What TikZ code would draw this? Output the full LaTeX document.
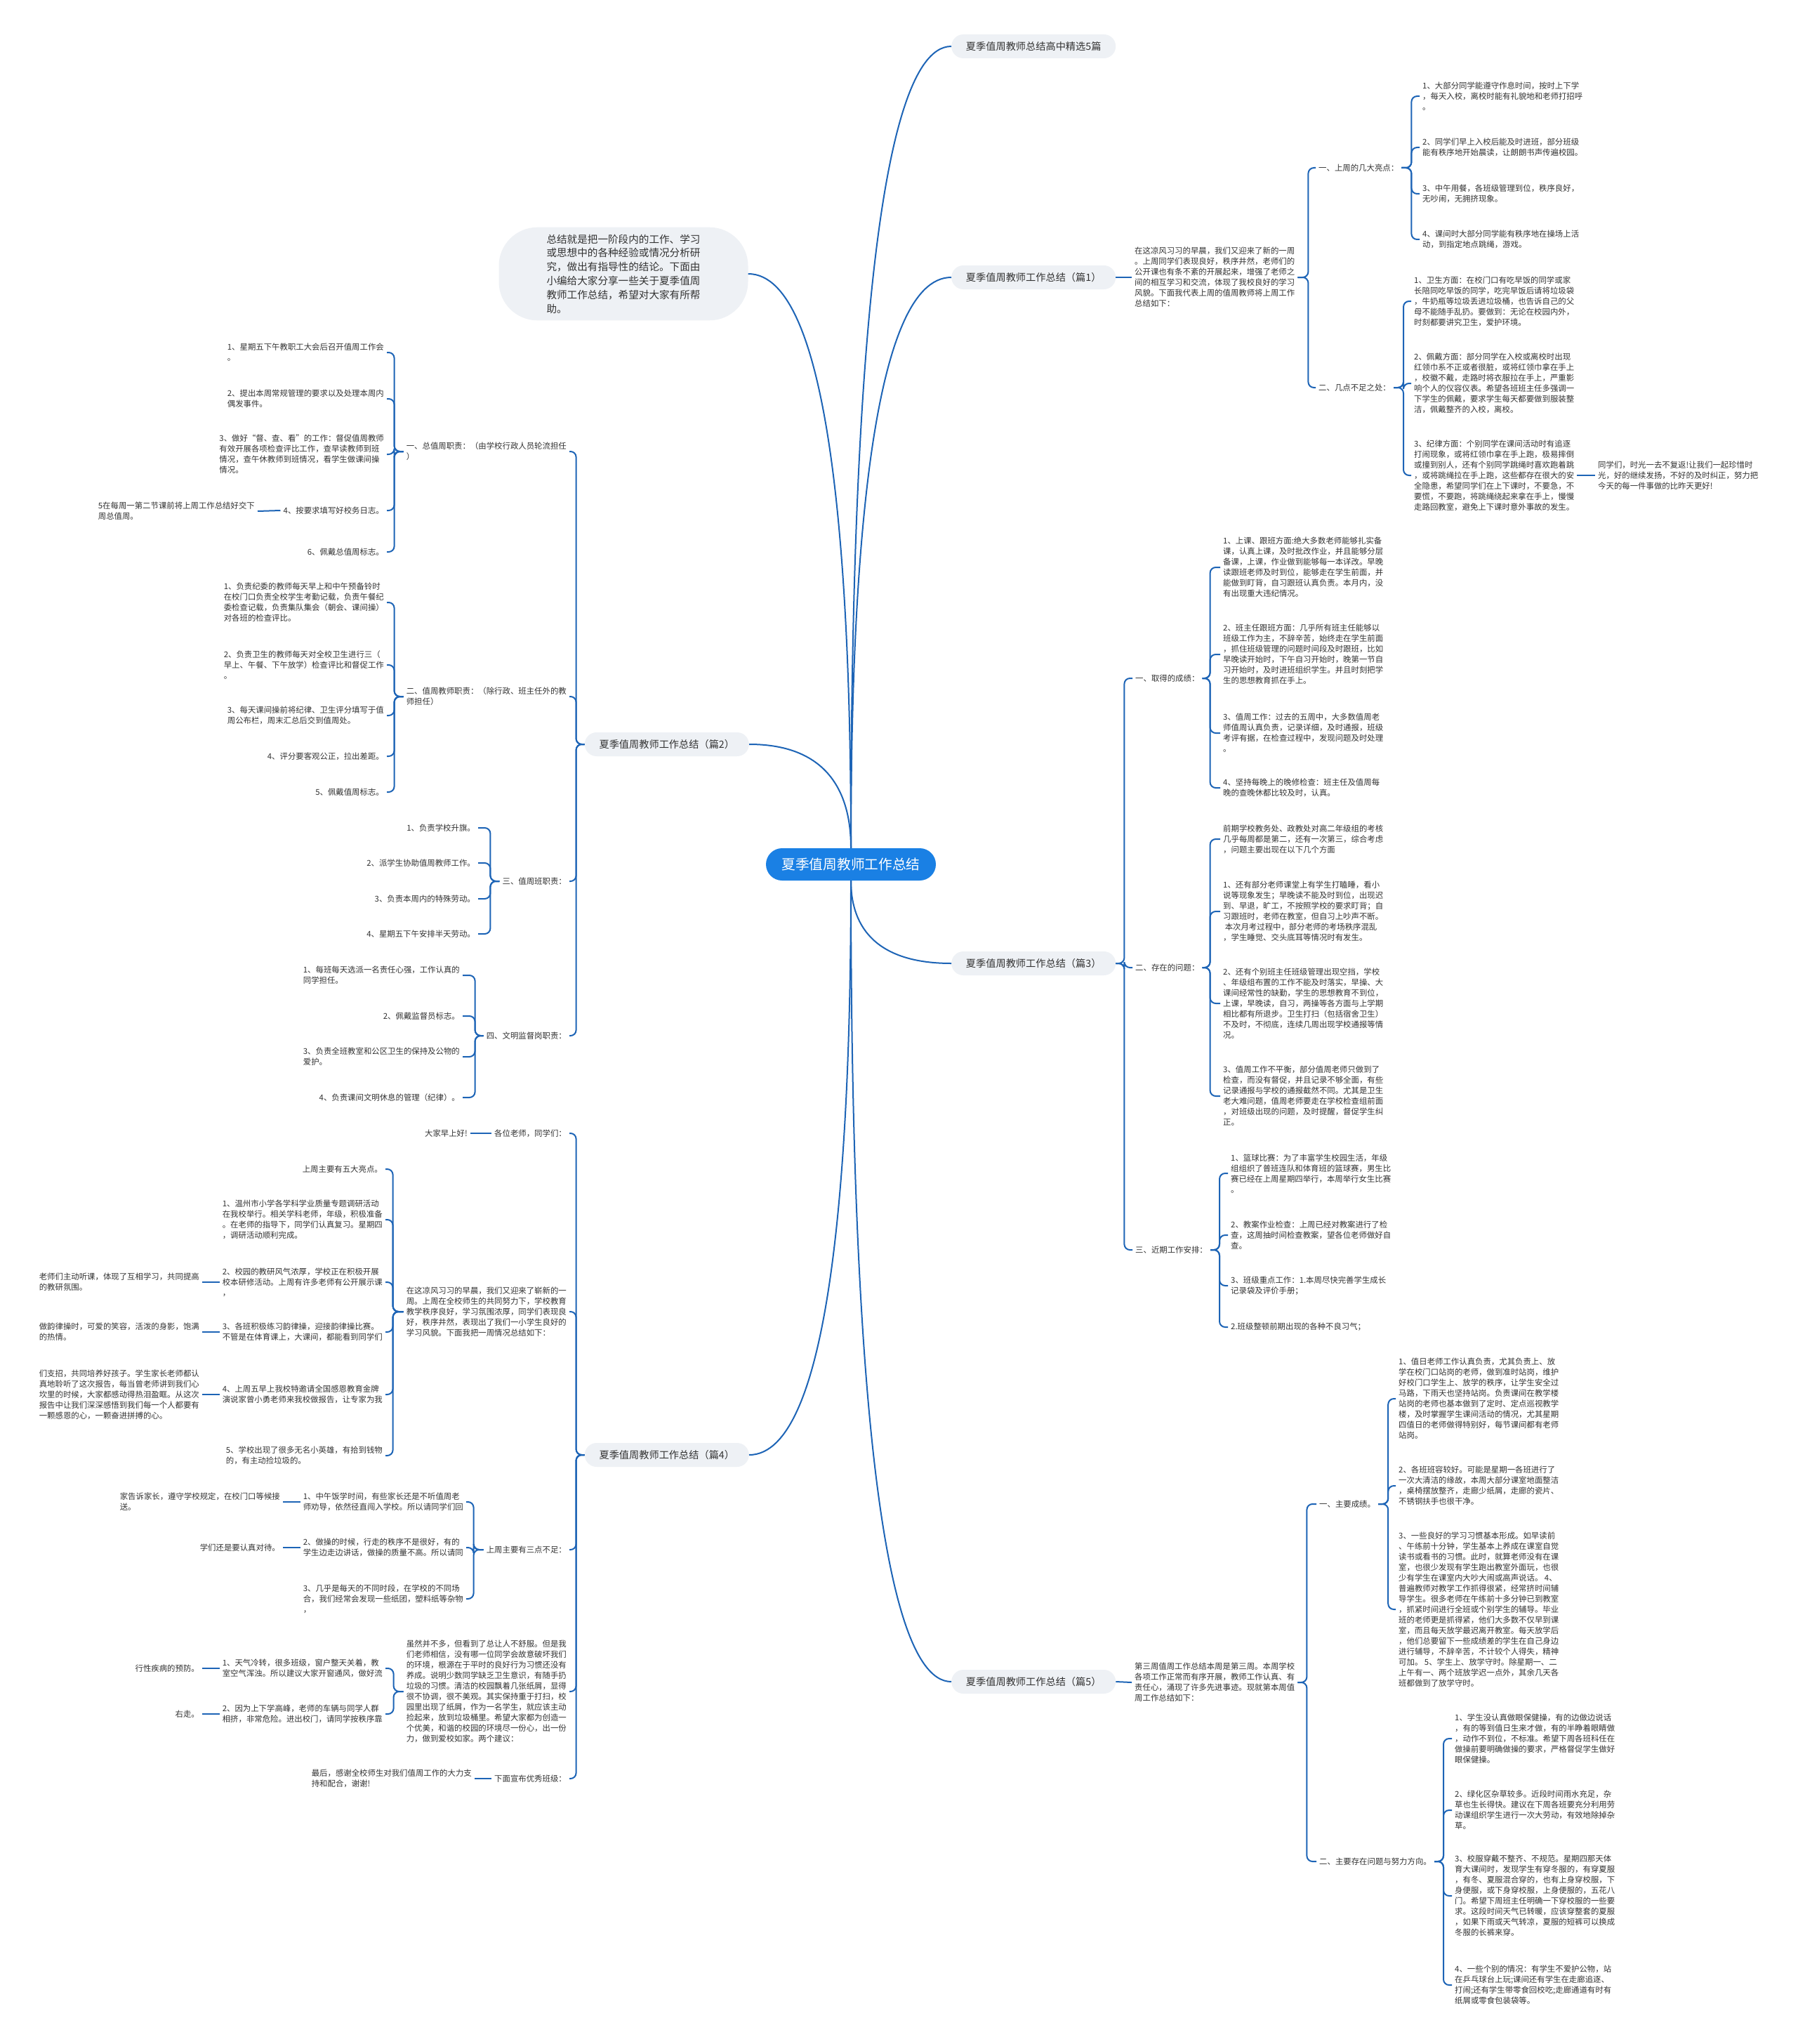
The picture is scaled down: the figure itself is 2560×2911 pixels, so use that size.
\documentclass[tikz,border=0pt]{standalone}
\usepackage{fontspec}
\setmainfont{Noto Sans CJK SC}
\usetikzlibrary{calc}
\definecolor{ink}{HTML}{333333}
\definecolor{wirec}{HTML}{1D64B6}
\definecolor{pillbg}{HTML}{EEF1F5}
\definecolor{rootc}{HTML}{1A80E4}
\newcommand{\BodyF}{\fontsize{11.4}{15}\selectfont}
\newcommand{\PillF}{\fontsize{14.2}{17}\selectfont}
\newcommand{\RootF}{\fontsize{19.7}{24}\selectfont}
\newcommand{\LeadF}{\fontsize{14.6}{19.8}\selectfont}
\tikzset{
  txt/.style={font=\BodyF, text=ink, align=left, inner xsep=4pt, inner ysep=2pt},
  rt/.style={txt, anchor=west},
  lt/.style={txt, anchor=east},
  pill/.style={fill=pillbg, text=ink, font=\PillF, rounded corners=17pt,
    minimum width=234pt, minimum height=34pt, inner xsep=0pt},
  wire/.style={draw=wirec, line width=2pt, rounded corners=8pt},
  branch/.style={draw=wirec, line width=2pt,
    to path={.. controls ($(\tikztostart)!0.5!(\tikztostart|-\tikztotarget)$)
      and ($(\tikztostart|-\tikztotarget)!0.2!(\tikztotarget)$) .. (\tikztotarget)}},
}

\begin{document}
\begin{tikzpicture}[x=1pt, y=-1pt]
  \path[use as bounding box, fill=white] (0,0) rectangle (2560,2911);

  % centre and first level
  \node[fill=rootc, text=white, font=\RootF, rounded corners=23pt,
        minimum width=242pt, minimum height=46pt] (root) at (1212,1231) {夏季值周教师工作总结};
  \node[pill, anchor=west] (p0) at (1355,66) {夏季值周教师总结高中精选5篇};
  \node[pill, anchor=west] (p1) at (1355,395) {夏季值周教师工作总结（篇1）};
  \node[pill, anchor=west] (p3) at (1355,1372) {夏季值周教师工作总结（篇3）};
  \node[pill, anchor=west] (p5) at (1355,2395) {夏季值周教师工作总结（篇5）};
  \node[pill, anchor=east] (p2) at (1067,1060) {夏季值周教师工作总结（篇2）};
  \node[pill, anchor=east] (p4) at (1067,2072) {夏季值周教师工作总结（篇4）};
  \node[fill=pillbg, text=ink, font=\LeadF, align=left, rounded corners=55pt,
        inner xsep=68pt, inner ysep=10pt] (lead) at (888,390)
    {总结就是把一阶段内的工作、学习\\或思想中的各种经验或情况分析研\\究，做出有指导性的结论。下面由\\小编给大家分享一些关于夏季值周\\教师工作总结，希望对大家有所帮\\助。};

  \draw[branch] (root.north) to (p0.west);
  \draw[branch] (root.north) to (p1.west);
  \draw[branch] (root.south) to (p3.west);
  \draw[branch] (root.south) to (p5.west);
  \draw[branch] (root.north) to (lead.east);
  \draw[branch] (root.north) to (p2.east);
  \draw[branch] (root.south) to (p4.east);

  % 篇1
  \node[rt] (s1) at (1612,395) {在这凉风习习的早晨，我们又迎来了新的一周\\。上周同学们表现良好，秩序井然，老师们的\\公开课也有条不紊的开展起来，增强了老师之\\间的相互学习和交流，体现了我校良好的学习\\风貌。下面我代表上周的值周教师将上周工作\\总结如下：};
  \node[rt] (s1a) at (1874,239) {一、上周的几大亮点：};
  \node[rt] (s1b) at (1874,552) {二、几点不足之处：};
  \node[rt] (s1a1) at (2022,137) {1、大部分同学能遵守作息时间，按时上下学\\，每天入校，离校时能有礼貌地和老师打招呼\\。};
  \node[rt] (s1a2) at (2022,210) {2、同学们早上入校后能及时进班，部分班级\\能有秩序地开始晨读，让朗朗书声传遍校园。};
  \node[rt] (s1a3) at (2022,276) {3、中午用餐，各班级管理到位，秩序良好，\\无吵闹，无拥挤现象。};
  \node[rt] (s1a4) at (2022,341) {4、课间时大部分同学能有秩序地在操场上活\\动，到指定地点跳绳，游戏。};
  \node[rt] (s1b1) at (2010,429) {1、卫生方面：在校门口有吃早饭的同学或家\\长陪同吃早饭的同学，吃完早饭后请将垃圾袋\\，牛奶瓶等垃圾丢进垃圾桶，也告诉自己的父\\母不能随手乱扔。要做到：无论在校园内外，\\时刻都要讲究卫生，爱护环境。};
  \node[rt] (s1b2) at (2010,546) {2、佩戴方面：部分同学在入校或离校时出现\\红领巾系不正或者很脏，或将红领巾拿在手上\\，校徽不戴，走路时将衣服拉在手上，严重影\\响个人的仪容仪表。希望各班班主任多强调一\\下学生的佩戴，要求学生每天都要做到服装整\\洁，佩戴整齐的入校，离校。};
  \node[rt] (s1b3) at (2010,677) {3、纪律方面：个别同学在课间活动时有追逐\\打闹现象，或将红领巾拿在手上跑，极易摔倒\\或撞到别人，还有个别同学跳绳时喜欢跑着跳\\，或将跳绳拉在手上跑，这些都存在很大的安\\全隐患，希望同学们在上下课时，不要急，不\\要慌，不要跑，将跳绳绕起来拿在手上，慢慢\\走路回教室，避免上下课时意外事故的发生。};
  \node[rt] (s1b3x) at (2272,677) {同学们，时光一去不复返!让我们一起珍惜时\\光，好的继续发扬，不好的及时纠正，努力把\\今天的每一件事做的比昨天更好!};

  \draw[wire] (p1.east) -- (s1.west);
  \foreach \kid in {s1a,s1b} \draw[wire] (s1.east) -- ++(15,0) |- (\kid.west);
  \foreach \kid in {s1a1,s1a2,s1a3,s1a4} \draw[wire] (s1a.east) -- ++(14,0) |- (\kid.west);
  \foreach \kid in {s1b1,s1b2,s1b3} \draw[wire] (s1b.east) -- ++(14,0) |- (\kid.west);
  \draw[wire] (s1b3.east) -- (s1b3x.west);

  % 篇3
  \node[rt] (s3a) at (1613,966) {一、取得的成绩：};
  \node[rt] (s3b) at (1613,1378) {二、存在的问题：};
  \node[rt] (s3c) at (1613,1780) {三、近期工作安排：};
  \node[rt] (s3a1) at (1738,808) {1、上课、跟班方面:绝大多数老师能够扎实备\\课，认真上课，及时批改作业，并且能够分层\\备课，上课，作业做到能够每一本详改。早晚\\读跟班老师及时到位，能够走在学生前面，并\\能做到盯背，自习跟班认真负责。本月内，没\\有出现重大违纪情况。};
  \node[rt] (s3a2) at (1738,932) {2、班主任跟班方面：几乎所有班主任能够以\\班级工作为主，不辞辛苦，始终走在学生前面\\，抓住班级管理的问题时间段及时跟班，比如\\早晚读开始时，下午自习开始时，晚第一节自\\习开始时，及时进班组织学生。并且时刻把学\\生的思想教育抓在手上。};
  \node[rt] (s3a3) at (1738,1044) {3、值周工作：过去的五周中，大多数值周老\\师值周认真负责，记录详细，及时通报，班级\\考评有据，在检查过程中，发现问题及时处理\\。};
  \node[rt] (s3a4) at (1738,1122) {4、坚持每晚上的晚修检查：班主任及值周每\\晚的查晚休都比较及时，认真。};
  \node[rt] (s3b1) at (1738,1195) {前期学校教务处、政教处对高二年级组的考核\\几乎每周都是第二，还有一次第三，综合考虑\\，问题主要出现在以下几个方面};
  \node[rt] (s3b2) at (1738,1298) {1、还有部分老师课堂上有学生打瞌睡，看小\\说等现象发生；早晚读不能及时到位，出现迟\\到、早退，旷工，不按照学校的要求盯背；自\\习跟班时，老师在教室，但自习上吵声不断。\\~本次月考过程中，部分老师的考场秩序混乱\\，学生睡觉、交头底耳等情况时有发生。};
  \node[rt] (s3b3) at (1738,1429) {2、还有个别班主任班级管理出现空挡，学校\\、年级组布置的工作不能及时落实，早操、大\\课间经常性的缺勤，学生的思想教育不到位，\\上课，早晚读，自习，两操等各方面与上学期\\相比都有所退步。卫生打扫（包括宿舍卫生）\\不及时，不彻底，连续几周出现学校通报等情\\况。};
  \node[rt] (s3b4) at (1738,1561) {3、值周工作不平衡，部分值周老师只做到了\\检查，而没有督促，并且记录不够全面，有些\\记录通报与学校的通报截然不同。尤其是卫生\\老大难问题，值周老师要走在学校检查组前面\\，对班级出现的问题，及时提醒，督促学生纠\\正。};
  \node[rt] (s3c1) at (1749,1671) {1、篮球比赛：为了丰富学生校园生活，年级\\组组织了普班连队和体育班的篮球赛，男生比\\赛已经在上周星期四举行，本周举行女生比赛\\。};
  \node[rt] (s3c2) at (1749,1759) {2、教案作业检查：上周已经对教案进行了检\\查，这周抽时间检查教案，望各位老师做好自\\查。};
  \node[rt] (s3c3) at (1749,1831) {3、班级重点工作：1.本周尽快完善学生成长\\记录袋及评价手册；};
  \node[rt] (s3c4) at (1749,1890) {2.班级整顿前期出现的各种不良习气；};

  \foreach \kid in {s3a,s3b,s3c} \draw[wire] (p3.east) -- ++(12,0) |- (\kid.west);
  \foreach \kid in {s3a1,s3a2,s3a3,s3a4} \draw[wire] (s3a.east) -- ++(11,0) |- (\kid.west);
  \foreach \kid in {s3b1,s3b2,s3b3,s3b4} \draw[wire] (s3b.east) -- ++(11,0) |- (\kid.west);
  \foreach \kid in {s3c1,s3c2,s3c3,s3c4} \draw[wire] (s3c.east) -- ++(13,0) |- (\kid.west);

  % 篇5
  \node[rt] (s5) at (1612,2396) {第三周值周工作总结本周是第三周。本周学校\\各项工作正常而有序开展，教师工作认真、有\\责任心，涌现了许多先进事迹。现就第本周值\\周工作总结如下：};
  \node[rt] (s5a) at (1875,2142) {一、主要成绩。};
  \node[rt] (s5b) at (1875,2651) {二、主要存在问题与努力方向。};
  \node[rt] (s5a1) at (1988,1992) {1、值日老师工作认真负责，尤其负责上、放\\学在校门口站岗的老师，做到准时站岗，维护\\好校门口学生上、放学的秩序，让学生安全过\\马路，下雨天也坚持站岗。负责课间在教学楼\\站岗的老师也基本做到了定时、定点巡视教学\\楼，及时掌握学生课间活动的情况，尤其星期\\四值日的老师做得特别好，每节课间都有老师\\站岗。};
  \node[rt] (s5a2) at (1988,2116) {2、各班班容较好。可能是星期一各班进行了\\一次大清洁的缘故，本周大部分课室地面整洁\\，桌椅摆放整齐，走廊少纸屑，走廊的瓷片、\\不锈钢扶手也很干净。};
  \node[rt] (s5a3) at (1988,2292) {3、一些良好的学习习惯基本形成。如早读前\\、午练前十分钟，学生基本上养成在课室自觉\\读书或看书的习惯。此时，就算老师没有在课\\室，也很少发现有学生跑出教室外面玩，也很\\少有学生在课室内大吵大闹或高声说话。 4、\\普遍教师对教学工作抓得很紧，经常挤时间辅\\导学生。很多老师在午练前十多分钟已到教室\\，抓紧时间进行全班或个别学生的辅导。毕业\\班的老师更是抓得紧，他们大多数不仅早到课\\室，而且每天放学最迟离开教室。每天放学后\\，他们总要留下一些成绩差的学生在自己身边\\进行辅导，不辞辛苦，不计较个人得失，精神\\可加。 5、学生上、放学守时。除星期一、二\\上午有一、两个班放学迟一点外，其余几天各\\班都做到了放学守时。};
  \node[rt] (s5b1) at (2068,2476) {1、学生没认真做眼保健操，有的边做边说话\\，有的等到值日生来才做，有的半睁着眼睛做\\，动作不到位，不标准。希望下周各班科任在\\做操前要明确做操的要求，严格督促学生做好\\眼保健操。};
  \node[rt] (s5b2) at (2068,2578) {2、绿化区杂草较多。近段时间雨水充足，杂\\草也生长得快。建议在下周各班要充分利用劳\\动课组织学生进行一次大劳动，有效地除掉杂\\草。};
  \node[rt] (s5b3) at (2068,2700) {3、校服穿戴不整齐、不规范。星期四那天体\\育大课间时，发现学生有穿冬服的，有穿夏服\\，有冬、夏服混合穿的，也有上身穿校服，下\\身便服，或下身穿校服，上身便服的，五花八\\门。希望下周班主任明确一下穿校服的一些要\\求。这段时间天气已转暖，应该穿整套的夏服\\，如果下雨或天气转凉，夏服的短裤可以换成\\冬服的长裤来穿。};
  \node[rt] (s5b4) at (2068,2827) {4、一些个别的情况：有学生不爱护公物，站\\在乒乓球台上玩;课间还有学生在走廊追逐、\\打闹;还有学生带零食回校吃;走廊通道有时有\\纸屑或零食包装袋等。};

  \draw[wire] (p5.east) -- (s5.west);
  \foreach \kid in {s5a,s5b} \draw[wire] (s5.east) -- ++(13,0) |- (\kid.west);
  \foreach \kid in {s5a1,s5a2,s5a3} \draw[wire] (s5a.east) -- ++(14,0) |- (\kid.west);
  \foreach \kid in {s5b1,s5b2,s5b3,s5b4} \draw[wire] (s5b.east) -- ++(13,0) |- (\kid.west);

  % 篇2
  \node[lt] (s2a) at (811,643) {一、总值周职责：（由学校行政人员轮流担任\\）};
  \node[lt] (s2b) at (811,992) {二、值周教师职责：（除行政、班主任外的教\\师担任）};
  \node[lt] (s2c) at (811,1255) {三、值周班职责：};
  \node[lt] (s2d) at (811,1475) {四、文明监督岗职责：};
  \node[lt] (s2a1) at (551,502) {1、星期五下午教职工大会后召开值周工作会\\。};
  \node[lt] (s2a2) at (551,568) {2、提出本周常规管理的要求以及处理本周内\\偶发事件。};
  \node[lt] (s2a3) at (551,647) {3、做好“督、查、看”的工作：督促值周教师\\有效开展各项检查评比工作，查早读教师到班\\情况，查午休教师到班情况，看学生做课间操\\情况。};
  \node[lt] (s2a4) at (551,727) {4、按要求填写好校务日志。};
  \node[lt] (s2a6) at (551,786) {6、佩戴总值周标志。};
  \node[lt] (s2a5) at (367,728) {5在每周一第二节课前将上周工作总结好交下\\周总值周。};
  \node[lt] (s2b1) at (551,858) {1、负责纪委的教师每天早上和中午预备铃时\\在校门口负责全校学生考勤记载，负责午餐纪\\委检查记载，负责集队集会（朝会、课间操）\\对各班的检查评比。};
  \node[lt] (s2b2) at (551,947) {2、负责卫生的教师每天对全校卫生进行三（\\早上、午餐、下午放学）检查评比和督促工作\\。};
  \node[lt] (s2b3) at (551,1019) {3、每天课间操前将纪律、卫生评分填写于值\\周公布栏，周末汇总后交到值周处。};
  \node[lt] (s2b4) at (551,1077) {4、评分要客观公正，拉出差距。};
  \node[lt] (s2b5) at (551,1128) {5、佩戴值周标志。};
  \node[lt] (s2c1) at (681,1179) {1、负责学校升旗。};
  \node[lt] (s2c2) at (681,1229) {2、派学生协助值周教师工作。};
  \node[lt] (s2c3) at (681,1280) {3、负责本周内的特殊劳动。};
  \node[lt] (s2c4) at (681,1330) {4、星期五下午安排半天劳动。};
  \node[lt] (s2d1) at (659,1389) {1、每班每天选派一名责任心强，工作认真的\\同学担任。};
  \node[lt] (s2d2) at (659,1447) {2、佩戴监督员标志。};
  \node[lt] (s2d3) at (659,1505) {3、负责全班教室和公区卫生的保持及公物的\\爱护。};
  \node[lt] (s2d4) at (659,1563) {4、负责课间文明休息的管理（纪律）。};

  \foreach \kid in {s2a,s2b,s2c,s2d} \draw[wire] (p2.west) -- ++(-12,0) |- (\kid.east);
  \foreach \kid in {s2a1,s2a2,s2a3,s2a4,s2a6} \draw[wire] (s2a.west) -- ++(-13,0) |- (\kid.east);
  \draw[wire] (s2a4.west) -- (s2a5.east);
  \foreach \kid in {s2b1,s2b2,s2b3,s2b4,s2b5} \draw[wire] (s2b.west) -- ++(-13,0) |- (\kid.east);
  \foreach \kid in {s2c1,s2c2,s2c3,s2c4} \draw[wire] (s2c.west) -- ++(-13,0) |- (\kid.east);
  \foreach \kid in {s2d1,s2d2,s2d3,s2d4} \draw[wire] (s2d.west) -- ++(-12,0) |- (\kid.east);

  % 篇4
  \node[lt] (s4a) at (811,1614) {各位老师，同学们：};
  \node[lt] (s4a1) at (670,1614) {大家早上好!};
  \node[lt] (s4b) at (811,1868) {在这凉风习习的早晨，我们又迎来了崭新的一\\周。上周在全校师生的共同努力下，学校教育\\教学秩序良好，学习氛围浓厚，同学们表现良\\好，秩序井然，表现出了我们一小学生良好的\\学习风貌。下面我把一周情况总结如下：};
  \node[lt] (s4c) at (811,2207) {上周主要有三点不足：};
  \node[lt] (s4d) at (811,2409) {虽然并不多，但看到了总让人不舒服。但是我\\们老师相信，没有哪一位同学会故意破坏我们\\的环境，根源在于平时的良好行为习惯还没有\\养成。说明少数同学缺乏卫生意识，有随手扔\\垃圾的习惯。清洁的校园飘着几张纸屑，显得\\很不协调，很不美观。其实保持重于打扫，校\\园里出现了纸屑，作为一名学生，就应该主动\\捡起来，放到垃圾桶里。希望大家都为创造一\\个优美，和谐的校园的环境尽一份心，出一份\\力，做到爱校如家。两个建议：};
  \node[lt] (s4e) at (811,2533) {下面宣布优秀班级：};
  \node[lt] (s4e1) at (676,2533) {最后，感谢全校师生对我们值周工作的大力支\\持和配合，谢谢!};
  \node[lt] (s4b1) at (549,1665) {上周主要有五大亮点。};
  \node[lt] (s4b2) at (549,1737) {1、温州市小学各学科学业质量专题调研活动\\在我校举行。相关学科老师，年级，积极准备\\。在老师的指导下，同学们认真复习。星期四\\，调研活动顺利完成。};
  \node[lt] (s4b3) at (549,1826) {2、校园的教研风气浓厚，学校正在积极开展\\校本研修活动。上周有许多老师有公开展示课\\，};
  \node[lt] (s4b4) at (549,1897) {3、各班积极练习韵律操，迎接韵律操比赛。\\不管是在体育课上，大课间，都能看到同学们};
  \node[lt] (s4b5) at (549,1986) {4、上周五早上我校特邀请全国感恩教育金牌\\演说家曾小勇老师来我校做报告，让专家为我};
  \node[lt] (s4b6) at (549,2073) {5、学校出现了很多无名小英雄，有拾到钱物\\的，有主动捡垃圾的。};
  \node[lt] (s4b3x) at (288,1826) {老师们主动听课，体现了互相学习，共同提高\\的教研氛围。};
  \node[lt] (s4b4x) at (288,1897) {做韵律操时，可爱的笑容，活泼的身影，饱满\\的热情。};
  \node[lt] (s4b5x) at (288,1986) {们支招，共同培养好孩子。学生家长老师都认\\真地聆听了这次报告，每当曾老师讲到我们心\\坎里的时候，大家都感动得热泪盈眶。从这次\\报告中让我们深深感悟到我们每一个人都要有\\一颗感恩的心，一颗奋进拼搏的心。};
  \node[lt] (s4c1) at (664,2139) {1、中午饭学时间，有些家长还是不听值周老\\师劝导，依然径直闯入学校。所以请同学们回};
  \node[lt] (s4c2) at (664,2204) {2、做操的时候，行走的秩序不是很好，有的\\学生边走边讲话，做操的质量不高。所以请同};
  \node[lt] (s4c3) at (664,2277) {3、几乎是每天的不同时段，在学校的不同场\\合，我们经常会发现一些纸团，塑料纸等杂物\\，};
  \node[lt] (s4c1x) at (403,2139) {家告诉家长，遵守学校规定，在校门口等候接\\送。};
  \node[lt] (s4c2x) at (403,2204) {学们还是要认真对待。};
  \node[lt] (s4d1) at (549,2376) {1、天气冷转，很多班级，窗户整天关着，教\\室空气浑浊。所以建议大家开窗通风，做好流};
  \node[lt] (s4d2) at (549,2441) {2、因为上下学高峰，老师的车辆与同学人群\\相挤，非常危险。进出校门，请同学按秩序靠};
  \node[lt] (s4d1x) at (288,2376) {行性疾病的预防。};
  \node[lt] (s4d2x) at (288,2441) {右走。};

  \foreach \kid in {s4a,s4b,s4c,s4d,s4e} \draw[wire] (p4.west) -- ++(-12,0) |- (\kid.east);
  \draw[wire] (s4a.west) -- (s4a1.east);
  \draw[wire] (s4e.west) -- (s4e1.east);
  \foreach \kid in {s4b1,s4b2,s4b3,s4b4,s4b5,s4b6} \draw[wire] (s4b.west) -- ++(-15,0) |- (\kid.east);
  \foreach \kid in {s4b3,s4b4,s4b5} \draw[wire] (\kid.west) -- (\kid x.east);
  \foreach \kid in {s4c1,s4c2,s4c3} \draw[wire] (s4c.west) -- ++(-14,0) |- (\kid.east);
  \foreach \kid in {s4c1,s4c2} \draw[wire] (\kid.west) -- (\kid x.east);
  \foreach \kid in {s4d1,s4d2} \draw[wire] (s4d.west) -- ++(-14,0) |- (\kid.east);
  \foreach \kid in {s4d1,s4d2} \draw[wire] (\kid.west) -- (\kid x.east);
\end{tikzpicture}
\end{document}
